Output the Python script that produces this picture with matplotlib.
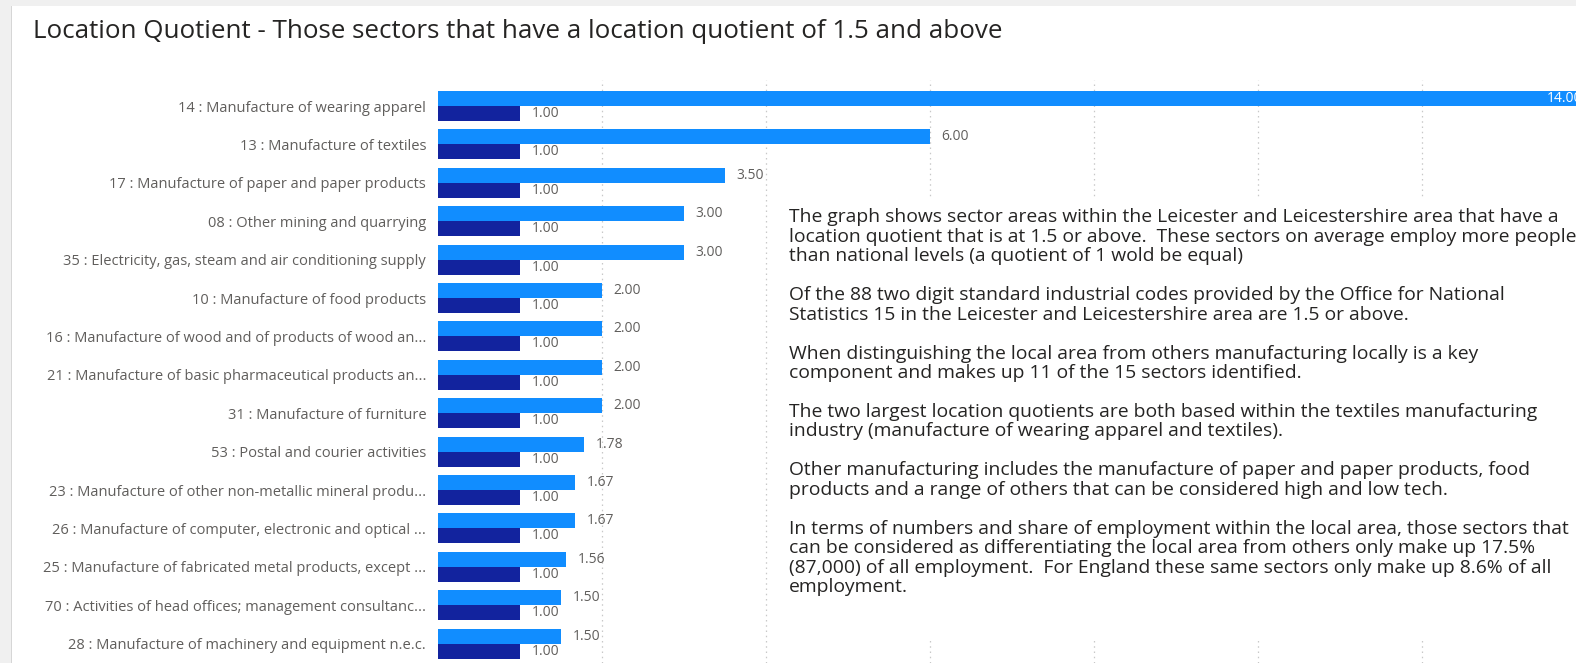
import matplotlib
matplotlib.use("Agg")
import matplotlib.pyplot as plt
from matplotlib.patches import Rectangle

plt.rcParams['font.family'] = ['Open Sans', 'DejaVu Sans']

# ---- data -------------------------------------------------------------
sectors = [
    "14 : Manufacture of wearing apparel",
    "13 : Manufacture of textiles",
    "17 : Manufacture of paper and paper products",
    "08 : Other mining and quarrying",
    "35 : Electricity, gas, steam and air conditioning supply",
    "10 : Manufacture of food products",
    "16 : Manufacture of wood and of products of wood an...",
    "21 : Manufacture of basic pharmaceutical products an...",
    "31 : Manufacture of furniture",
    "53 : Postal and courier activities",
    "23 : Manufacture of other non-metallic mineral produ...",
    "26 : Manufacture of computer, electronic and optical ...",
    "25 : Manufacture of fabricated metal products, except ...",
    "70 : Activities of head offices; management consultanc...",
    "28 : Manufacture of machinery and equipment n.e.c.",
]
local_lq = [14.00, 6.00, 3.50, 3.00, 3.00, 2.00, 2.00, 2.00, 2.00,
            1.78, 1.67, 1.67, 1.56, 1.50, 1.50]
england_lq = [1.00] * len(sectors)

title = "Location Quotient - Those sectors that have a location quotient of 1.5 and above"

commentary = [
    ["The graph shows sector areas within the Leicester and Leicestershire area that have a",
     "location quotient that is at 1.5 or above.  These sectors on average employ more people",
     "than national levels (a quotient of 1 wold be equal)"],
    ["Of the 88 two digit standard industrial codes provided by the Office for National",
     "Statistics 15 in the Leicester and Leicestershire area are 1.5 or above."],
    ["When distinguishing the local area from others manufacturing locally is a key",
     "component and makes up 11 of the 15 sectors identified."],
    ["The two largest location quotients are both based within the textiles manufacturing",
     "industry (manufacture of wearing apparel and textiles)."],
    ["Other manufacturing includes the manufacture of paper and paper products, food",
     "products and a range of others that can be considered high and low tech."],
    ["In terms of numbers and share of employment within the local area, those sectors that",
     "can be considered as differentiating the local area from others only make up 17.5%",
     "(87,000) of all employment.  For England these same sectors only make up 8.6% of all",
     "employment."],
]

# ---- styling ----------------------------------------------------------
W, H = 1576, 663
LIGHT = "#118DFF"
DARK = "#12239E"
LABEL_GREY = "#605E5C"
TEXT_DARK = "#252423"

fig = plt.figure(figsize=(W / 100, H / 100), dpi=100, facecolor="#F0F0F0")

def px_rect(x0, y0, x1, y1, **kw):
    """Rectangle given in pixel coords measured from top-left."""
    return Rectangle((x0 / W, 1 - y1 / H), (x1 - x0) / W, (y1 - y0) / H,
                     transform=fig.transFigure, **kw)

# white report panel with thin left border
fig.patches.append(px_rect(11, 6, W + 5, H + 5, facecolor="white",
                           edgecolor="none", zorder=-2))
fig.patches.append(px_rect(10.5, 6, 12, H + 5, facecolor="#D6D6D6",
                           edgecolor="none", zorder=-1))

fig.text(33 / W, 1 - 31 / H, title, fontsize=18.7, color=TEXT_DARK,
         ha="left", va="center")

# ---- bar chart ----------------------------------------------------------
left_px, top_px = 438, 80
unit_px = 82.0
row_px = 38.4
row0_px = 106.0
ax = fig.add_axes([left_px / W, 0, 1 - left_px / W, 1 - top_px / H])
ax.set_facecolor("none")

n = len(sectors)
ypos = list(range(n))
bar_h = 15 / row_px
ax.barh([y - bar_h / 2 for y in ypos], local_lq, height=bar_h,
        color=LIGHT, zorder=2)
ax.barh([y + bar_h / 2 for y in ypos], england_lq, height=bar_h,
        color=DARK, zorder=2)

ax.set_xlim(0, (W - left_px) / unit_px)
ax.set_ylim(n - 1 + (H - (row0_px + (n - 1) * row_px)) / row_px,
            -(row0_px - top_px) / row_px)

ax.set_yticks(ypos)
ax.set_yticklabels(sectors, fontsize=10.5, color=LABEL_GREY)
ax.tick_params(axis="y", length=0, pad=8.5)
ax.tick_params(axis="x", length=0, labelbottom=False)
for s in ax.spines.values():
    s.set_visible(False)

ax.set_xticks([2, 4, 6, 8, 10, 12])
ax.grid(axis="x", color="#C8C8C8", linestyle=(0, (1.2, 3.0)), linewidth=0.9,
        zorder=0)
ax.set_axisbelow(True)

# value labels
VAL_FS = 10
for y, v in zip(ypos, local_lq):
    if v > 10:
        ax.text(v - 0.05, y - bar_h / 2, f"{v:.2f}", fontsize=VAL_FS,
                color="white", ha="right", va="center", clip_on=False, zorder=3)
    else:
        ax.text(v + 0.14, y - bar_h / 2, f"{v:.2f}", fontsize=VAL_FS,
                color=LABEL_GREY, ha="left", va="center", zorder=3)
for y, v in zip(ypos, england_lq):
    ax.text(v + 0.14, y + bar_h / 2, f"{v:.2f}", fontsize=VAL_FS,
            color=LABEL_GREY, ha="left", va="center", zorder=3)

# ---- commentary text box ---------------------------------------------
fig.patches.append(px_rect(778, 200, W + 5, 638, facecolor="white",
                           edgecolor="none", zorder=1))
line_px = 19.45
y_px = 217.5
for para in commentary:
    for line in para:
        fig.text(789 / W, 1 - y_px / H, line, fontsize=13.85, color=TEXT_DARK,
                 ha="left", va="center", zorder=2)
        y_px += line_px
    y_px += line_px

fig.savefig("out.png", dpi=100, facecolor=fig.get_facecolor())
